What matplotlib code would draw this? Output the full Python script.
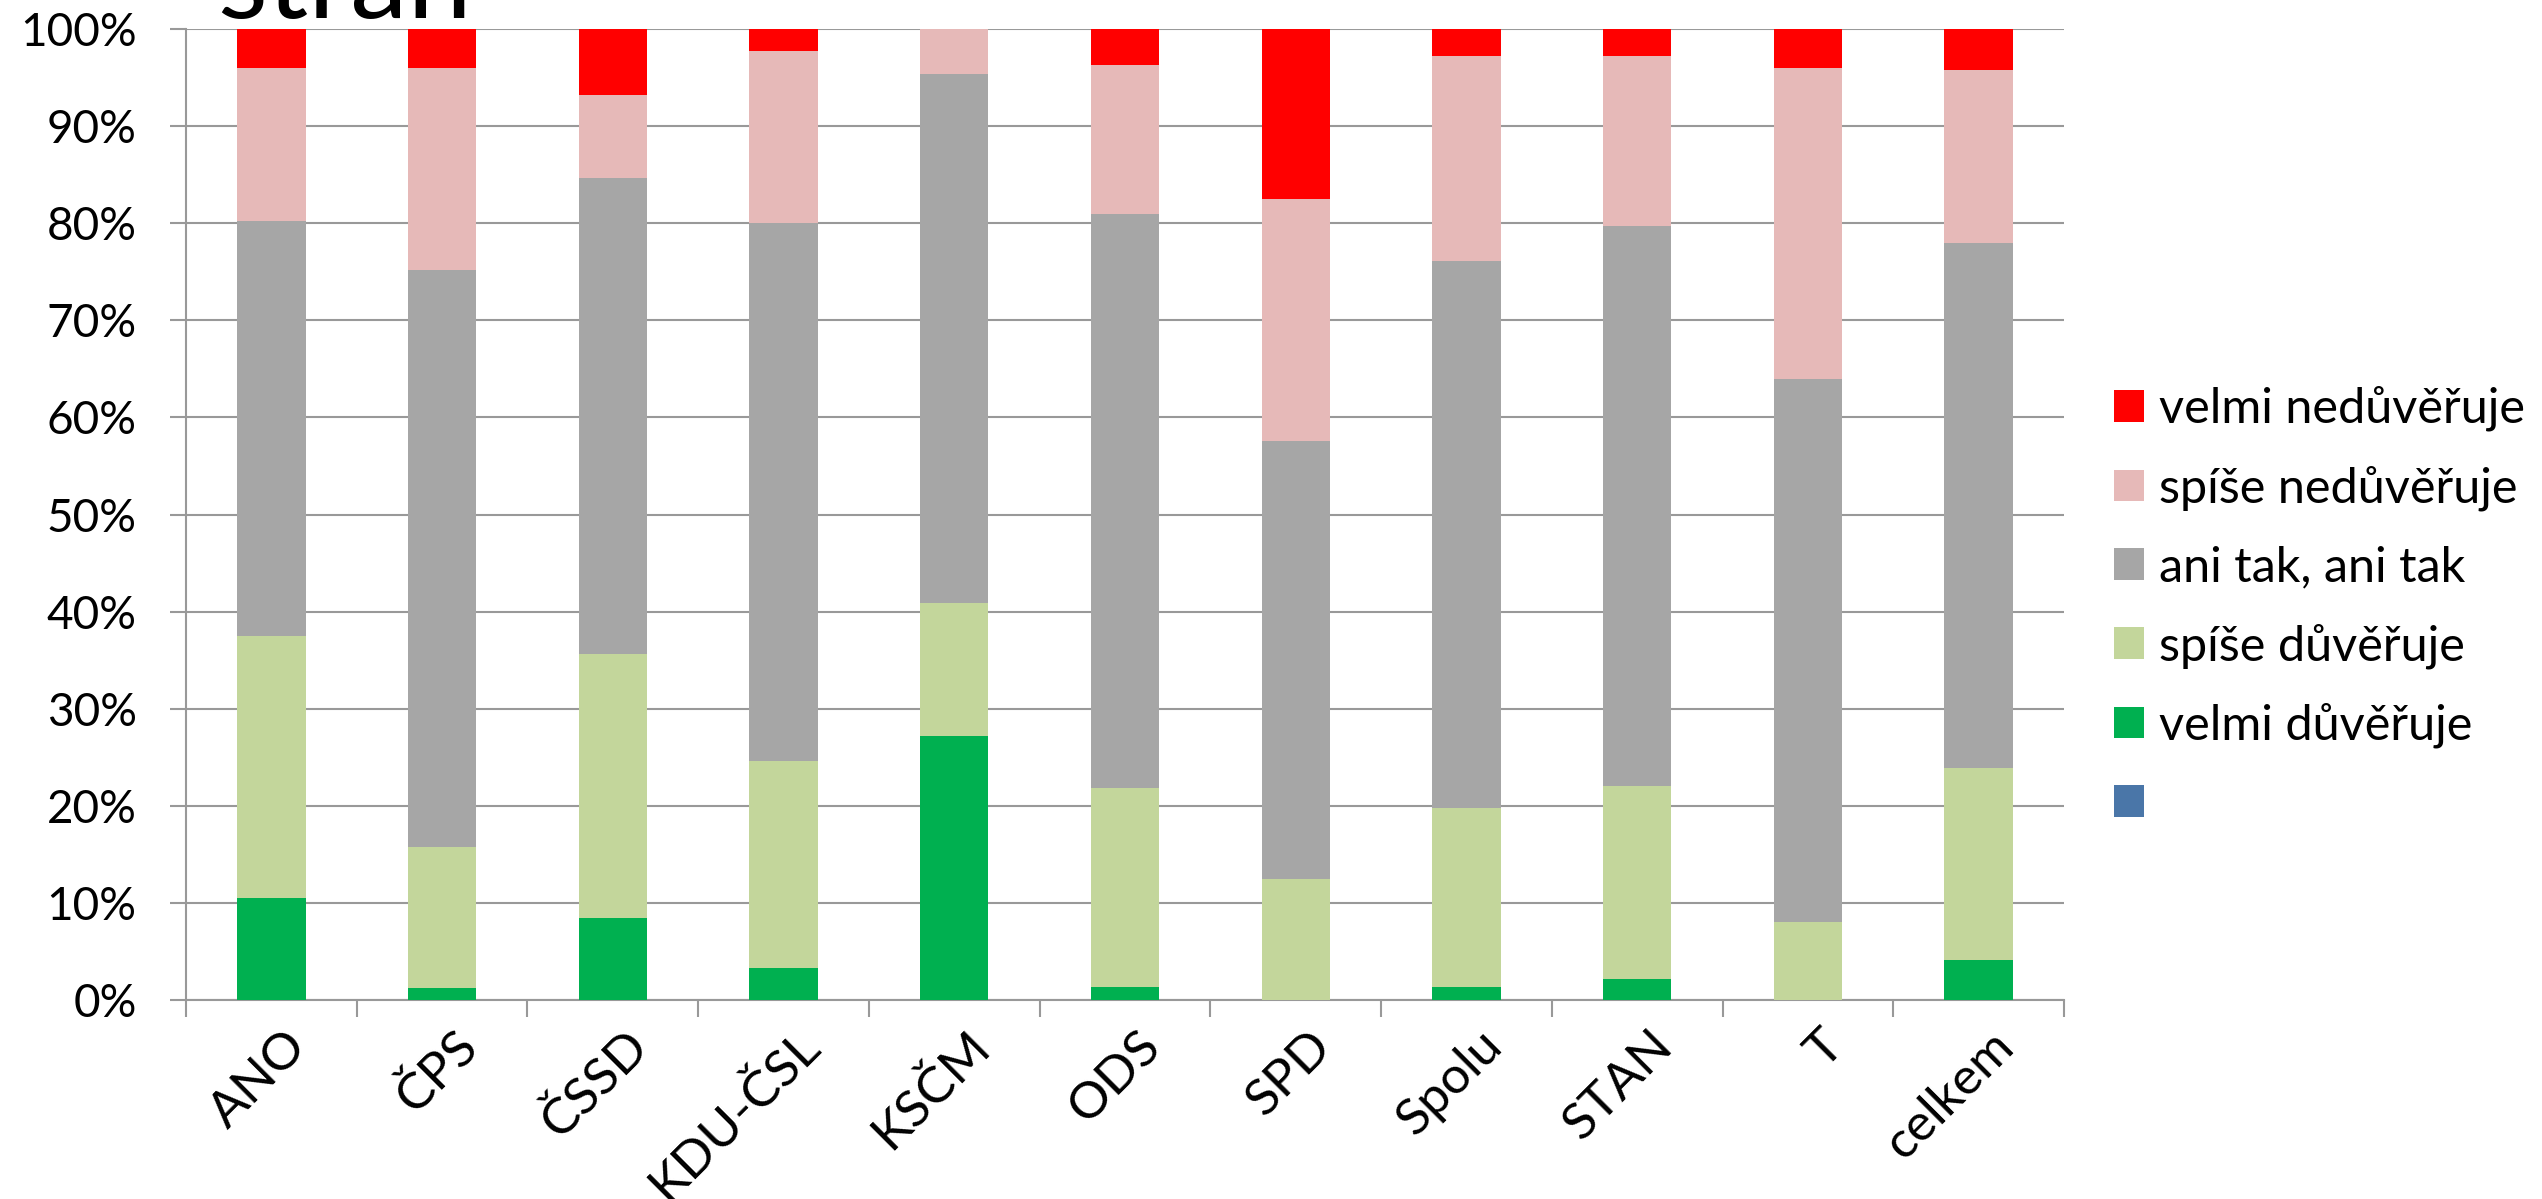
import matplotlib
matplotlib.use("Agg")
import matplotlib.pyplot as plt
from matplotlib.patches import Patch
from matplotlib.ticker import FixedLocator, PercentFormatter
from matplotlib.transforms import ScaledTranslation
import numpy as np

plt.rcParams['font.family'] = ['Lato', 'DejaVu Sans']

categories = ["ANO", "ČPS", "ČSSD", "KDU-ČSL", "KSČM", "ODS", "SPD", "Spolu", "STAN", "T", "celkem"]

blank_series     = [0, 0, 0, 0, 0, 0, 0, 0, 0, 0, 0]
velmi_duveruje   = [10.5, 1.2, 8.4, 3.3, 27.2, 1.3, 0.0, 1.3, 2.2, 0.0, 4.1]
spise_duveruje   = [27.0, 14.6, 27.2, 21.3, 13.7, 20.5, 12.5, 18.5, 19.8, 8.0, 19.8]
ani_tak          = [42.7, 59.4, 49.1, 55.4, 54.5, 59.1, 45.1, 56.3, 57.7, 56.0, 54.1]
spise_neduveruje = [15.8, 20.8, 8.5, 17.7, 4.6, 15.4, 24.9, 21.1, 17.5, 32.0, 17.8]
velmi_neduveruje = [4.0, 4.0, 6.8, 2.3, 0.0, 3.7, 17.5, 2.8, 2.8, 4.0, 4.2]

series = [
    ("", blank_series, "#4A76A8"),
    ("velmi důvěřuje", velmi_duveruje, "#00B050"),
    ("spíše důvěřuje", spise_duveruje, "#C3D69B"),
    ("ani tak, ani tak", ani_tak, "#A6A6A6"),
    ("spíše nedůvěřuje", spise_neduveruje, "#E6B9B8"),
    ("velmi nedůvěřuje", velmi_neduveruje, "#FF0000"),
]

W, H = 2542, 1199
fig = plt.figure(figsize=(W / 100, H / 100), dpi=100)
ax = fig.add_axes([186 / W, 1 - 1000 / H, (2064 - 186) / W, (1000 - 29) / H])

x = np.arange(len(categories))
bottom = np.zeros(len(categories))
handles = []
for label, vals, color in series:
    vals = np.array(vals, dtype=float)
    ax.bar(x, vals, width=0.4, bottom=bottom, color=color, edgecolor='none', zorder=3)
    bottom = bottom + vals
    handles.append(Patch(facecolor=color, edgecolor='none', label=label))

ax.set_xlim(-0.5, len(categories) - 0.5)
ax.set_ylim(0, 100)
ax.yaxis.set_major_locator(FixedLocator(np.arange(0, 101, 10)))
ax.yaxis.set_major_formatter(PercentFormatter(decimals=0))
ax.grid(axis='y', color='#999999', linewidth=1.5, zorder=0)
ax.set_axisbelow(True)

for s in ['top', 'right']:
    ax.spines[s].set_visible(False)
for s in ['left', 'bottom']:
    ax.spines[s].set_color('#999999')
    ax.spines[s].set_linewidth(1.5)

ax.tick_params(axis='y', which='major', length=11.5, width=1.5, color='#999999',
               labelsize=33, pad=24)
ax.set_xticks(x)
ax.set_xticklabels(categories, rotation=45, ha='right', va='center', rotation_mode='anchor')
ax.tick_params(axis='x', which='major', length=0, labelsize=37, pad=45)
ax.xaxis.set_minor_locator(FixedLocator(np.arange(-0.5, len(categories), 1.0)))
ax.tick_params(axis='x', which='minor', length=12, width=1.5, color='#999999')
shift = ScaledTranslation(28 / 100, 24 / 100, fig.dpi_scale_trans)
for lbl in ax.get_xticklabels():
    lbl.set_transform(lbl.get_transform() + shift)

legend_handles = handles[::-1]
legend_labels = [h.get_label() for h in legend_handles]
fig.legend(legend_handles, legend_labels, loc='center left',
           bbox_to_anchor=(2114 / W, 1 - 606 / H), bbox_transform=fig.transFigure,
           frameon=False, fontsize=35, handlelength=0.62, handleheight=0.62,
           handletextpad=0.3, labelspacing=0.7, borderpad=0, borderaxespad=0)

fig.text(217 / W, 1 - 18 / H, "stran", fontsize=83, ha='left', va='baseline')

fig.savefig("out.png", dpi=100)
